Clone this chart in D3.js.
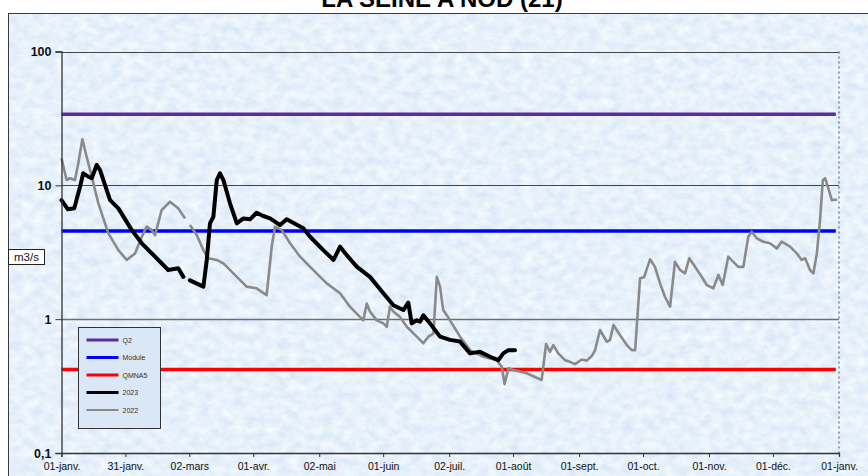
<!DOCTYPE html>
<html>
<head>
<meta charset="utf-8">
<script src="https://cdn.jsdelivr.net/npm/d3@7"></script>
<style>
  html, body { margin: 0; padding: 0; background: #ffffff; }
  svg { display: block; font-family: "Liberation Sans", Arial, sans-serif; }
</style>
</head>
<body>
<svg id="chart" width="868" height="476"></svg>
<script>
// ---------- DATA ----------
const chartTitle = "LA SEINE A NOD (21)";
const unitLabel = "m3/s";

const tickDays = [0, 30, 60, 90, 121, 151, 182, 212, 243, 273, 304, 334, 365];
const tickLabels = ["01-janv.", "31-janv.", "02-mars", "01-avr.", "02-mai", "01-juin", "02-juil.",
                    "01-août", "01-sept.", "01-oct.", "01-nov.", "01-déc.", "01-janv."];

const yTickValues = [0.1, 1, 10, 100];
const yTickLabels = ["0,1", "1", "10", "100"];

const refNames = ["Q2", "Module", "QMNA5"];
const refValues = [34, 4.55, 0.42];

const days2023 = [0, 3, 6, 8.7, 10.2, 12.6, 14.2, 16.5, 18.1, 22.8, 26.7, 33, 37.7, 43.9, 50.1, 54.8, 57.2, 58.7,
  60.3, 66.6, 68.2, 69.7, 71.3, 72.9, 74.4, 76, 79.1, 82.3, 85.4, 88.5, 91.6, 94.7, 97.9, 102.6, 105.7,
  113.5, 116.7, 122.9, 127.7, 130.8, 133.9, 138.7, 144.8, 151.1, 155.8, 160.5, 162.8, 164.4, 166.8, 168.3,
  169.9, 173, 177.7, 182.4, 187.1, 191.8, 196.5, 201.2, 205.1, 207.4, 209.8, 212.9];
const flow2023 = [7.76, 6.62, 6.73, 9.77, 12.3, 11.6, 11.3, 14.2, 13.0, 7.76, 6.73, 4.63, 3.69, 2.93, 2.33, 2.40, 2.07, null,
  1.95, 1.75, 2.77, 5.2, 5.82, 10.96, 12.3, 10.96, 7.34, 5.2, 5.66, 5.57, 6.24, 5.9, 5.66, 5.05, 5.57,
  4.77, 4.13, 3.28, 2.77, 3.48, 3.01, 2.46, 2.07, 1.56, 1.27, 1.17, 1.33, 0.93, 0.98, 0.957,
  1.07, 0.93, 0.74, 0.70, 0.68, 0.555, 0.57, 0.524, 0.494, 0.555, 0.587, 0.587];

const days2022 = [0, 2.4, 4, 6.3, 7.9, 9.8, 11.8, 14.2, 17.3, 22, 26.7, 30.6, 34.5, 37.7, 40, 42.3, 43.9, 47, 50.9,
  54.8, 58, 59.2, 60.3, 63.5, 66.6, 68.9, 72.9, 76, 80.7, 86.9, 91.6, 96.3, 98.7, 100.2, 103.4, 107.3, 112,
  116.7, 124.5, 130.8, 135.4, 140.1, 141.7, 143.3, 144.8, 148, 151.1, 152.7, 154.2, 155.8, 158.9, 162.1,
  166.8, 169.9, 172.2, 174.6, 176.2, 177.7, 179.2, 182.4, 187.1, 191.8, 198, 204.3, 206.7, 208, 209.8,
  212.1, 218.4, 225.4, 227.5, 229.3, 230.9, 233.2, 236.4, 238.7, 241.1, 244.2, 246.6, 248.9, 250.5,
  252.8, 256, 257.5, 259.1, 262.2, 265.4, 267.7, 269.3, 271.6, 273.5, 276.3, 278.6, 281, 283.3, 285.7,
  288, 290.4, 292.7, 294.7, 297.4, 300.6, 302.9, 306, 308.4, 310.4, 313, 315.4, 317.7, 320.1, 322.4,
  324, 326.4, 329.5, 332.6, 335.8, 338.1, 342, 345.2, 347.5, 349.1, 351.4, 353, 354.6, 356.1, 357.4,
  358.5, 360, 361.6, 364.2];
const flow2022 = [15.9, 10.96, 11.3, 10.96, 14.6, 22.1, 16.4, 11.6, 7.33, 4.38, 3.28, 2.77, 3.10, 4.13, 4.91, 4.63, 4.25, 6.53, 7.54,
  6.73, 5.66, null, 5.05, 4.25, 3.28, 2.85, 2.77, 2.61, 2.20, 1.75, 1.70, 1.51, 3.48, 4.91, 4.63, 3.69, 2.93,
  2.46, 1.85, 1.56, 1.24, 1.04, 0.98, 1.31, 1.14, 0.98, 0.93, 0.877, 1.24, 1.14, 1.04, 0.877,
  0.74, 0.66, 0.74, 0.78, 2.07, 1.75, 1.17, 0.98, 0.74, 0.587, 0.524, 0.494, 0.44, 0.327, 0.429,
  0.417, 0.394, 0.351, 0.652, 0.57, 0.64, 0.555, 0.494, 0.48, 0.461, 0.50, 0.49, 0.53, 0.587,
  0.83, 0.678, 0.70, 0.904, 0.76, 0.64, 0.587, 0.587, 2.02, 2.06, 2.80, 2.46, 1.85, 1.47, 1.24,
  2.68, 2.33, 2.20, 2.85, 2.46, 2.07, 1.80, 1.70, 2.14, 1.80, 2.93, 2.68, 2.46, 2.46, 4.13,
  4.50, 4.02, 3.79, 3.69, 3.38, 3.79, 3.48, 3.10, 2.77, 2.85, 2.33, 2.20, 3.10, 5.5, 10.96,
  11.3, 9.5, 7.76, 7.8];

const legendNames = ["Q2", "Module", "QMNA5", "2023", "2022"];
const legendColors = ["#5a2d9c", "#0000ff", "#ff0000", "#000000", "#8a8a8a"];

// ---------- CHART ----------
const svg = d3.select("#chart");
const W = 868, H = 476;
const plot = { left: 61.5, right: 839, top: 51.5, bottom: 453 };

const x = d3.scaleLinear().domain([0, 365]).range([plot.left, plot.right]);
const y = d3.scaleLog().domain([0.1, 100]).range([plot.bottom, plot.top]);

const defs = svg.append("defs");
const filt = defs.append("filter").attr("id", "tex").attr("x", 0).attr("y", 0).attr("width", 1).attr("height", 1);
filt.append("feTurbulence").attr("type", "fractalNoise").attr("baseFrequency", "0.09 0.12")
  .attr("numOctaves", 3).attr("seed", 7).attr("result", "n");
filt.append("feColorMatrix").attr("in", "n").attr("type", "matrix")
  .attr("values", "0.32 0 0 0 0.64  0.25 0 0 0 0.755  0.08 0 0 0 0.92  0 0 0 0 1");

// frame background
svg.append("rect").attr("x", 8).attr("y", 13).attr("width", W + 10).attr("height", H + 10)
  .attr("fill", "#d4e4f5");
svg.append("rect").attr("x", 8).attr("y", 13).attr("width", W + 10).attr("height", H + 10)
  .attr("filter", "url(#tex)");
svg.append("rect").attr("x", 8.5).attr("y", 13.5).attr("width", W + 10).attr("height", H + 10)
  .attr("fill", "none").attr("stroke", "#3a3a3a").attr("stroke-width", 1);

// title (partly cut at top, as in the reference)
svg.append("text").attr("x", 442).attr("y", 7).attr("text-anchor", "middle")
  .attr("font-size", 24).attr("font-weight", "bold").attr("fill", "#000").text(chartTitle);

// gridlines
svg.append("g").selectAll("line").data(yTickValues.filter(v => v > 0.1)).join("line")
  .attr("x1", plot.left).attr("x2", plot.right)
  .attr("y1", d => Math.round(y(d)) + 0.5).attr("y2", d => Math.round(y(d)) + 0.5)
  .attr("stroke", d => d === 1 ? "#6e6e6e" : "#444").attr("stroke-width", d => d === 1 ? 1.6 : 1.2);

// right dotted border
svg.append("line").attr("x1", plot.right).attr("x2", plot.right)
  .attr("y1", plot.top).attr("y2", plot.bottom)
  .attr("stroke", "#666").attr("stroke-width", 1.2).attr("stroke-dasharray", "2,3");

// reference lines
svg.append("g").selectAll("line").data(refValues).join("line")
  .attr("x1", plot.left).attr("x2", x(363.5))
  .attr("y1", d => y(d)).attr("y2", d => y(d))
  .attr("stroke", (d, i) => legendColors[i]).attr("stroke-width", 3.5);

// series
const lineGen = () => d3.line()
  .defined(d => d[1] != null)
  .x(d => x(d[0])).y(d => y(d[1]));

const s2022 = days2022.map((d, i) => [d, flow2022[i]]);
const s2023 = days2023.map((d, i) => [d, flow2023[i]]);

svg.append("path").datum(s2022).attr("d", lineGen()).attr("fill", "none")
  .attr("stroke", legendColors[4]).attr("stroke-width", 2.6).attr("stroke-linejoin", "round");
svg.append("path").datum(s2023).attr("d", lineGen()).attr("fill", "none")
  .attr("stroke", legendColors[3]).attr("stroke-width", 4).attr("stroke-linejoin", "round").attr("stroke-linecap", "round");

// axes
const xAxis = d3.axisBottom(x).tickValues(tickDays).tickFormat((d, i) => tickLabels[i]).tickSize(4).tickPadding(6);
const gx = svg.append("g").attr("transform", `translate(0,${plot.bottom})`).call(xAxis);
gx.select(".domain").attr("stroke", "#333").attr("stroke-width", 1.3);
gx.selectAll(".tick line").attr("stroke", "#333");
gx.selectAll("text").attr("font-size", 10.5).attr("fill", "#111").attr("font-family", "Liberation Sans, Arial, sans-serif");

const yAxis = d3.axisLeft(y).tickValues(yTickValues).tickFormat((d, i) => yTickLabels[i]).tickSize(6).tickPadding(4);
const gy = svg.append("g").attr("transform", `translate(${plot.left},0)`).call(yAxis);
gy.select(".domain").attr("stroke", "#333").attr("stroke-width", 1.3);
gy.selectAll(".tick line").attr("stroke", "#333");
gy.selectAll("text").attr("font-size", 12.5).attr("font-weight", "bold").attr("fill", "#111")
  .attr("font-family", "Liberation Sans, Arial, sans-serif");

// unit label box
const ub = svg.append("g").attr("transform", "translate(8.5,249.5)");
ub.append("rect").attr("width", 36).attr("height", 15).attr("fill", "#fff").attr("stroke", "#222");
ub.append("text").attr("x", 18).attr("y", 11.5).attr("text-anchor", "middle").attr("font-size", 11.5)
  .attr("fill", "#111").text(unitLabel);

// legend
const lg = svg.append("g").attr("transform", "translate(78.5,327.5)");
lg.append("rect").attr("width", 82).attr("height", 101).attr("fill", "#dae7f6").attr("stroke", "#333");
const items = lg.selectAll("g.item").data(legendNames).join("g").attr("class", "item")
  .attr("transform", (d, i) => `translate(0,${12.5 + i * 17.5})`);
items.append("line").attr("x1", 8).attr("x2", 40).attr("y1", 0).attr("y2", 0)
  .attr("stroke", (d, i) => legendColors[i]).attr("stroke-width", (d, i) => i === 4 ? 2 : 3);
items.append("text").attr("x", 44).attr("y", 2.5).attr("font-size", 7).attr("fill", "#333").text(d => d);
</script>
</body>
</html>
